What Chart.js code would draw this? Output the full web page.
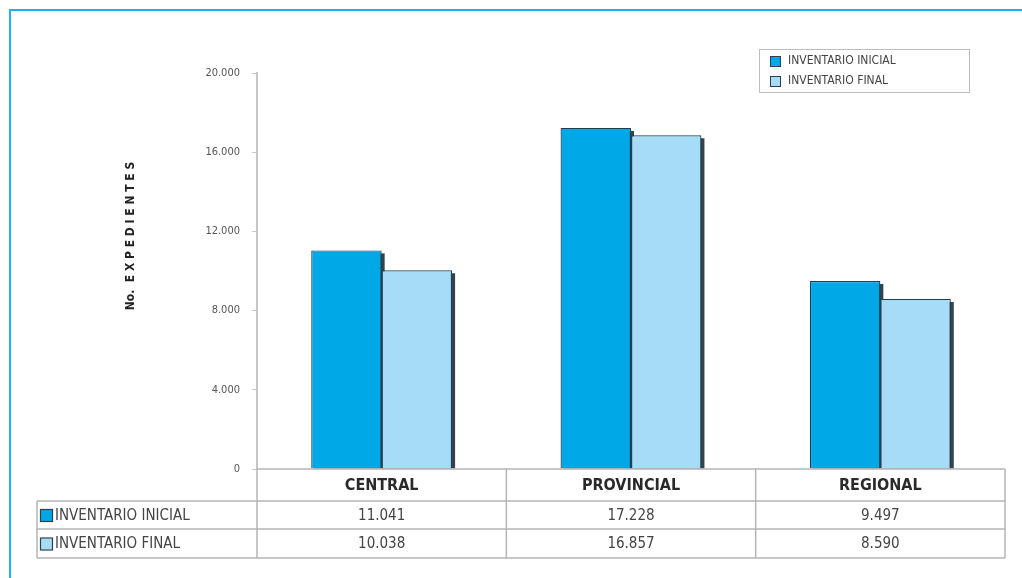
<!DOCTYPE html>
<html>
<head>
<meta charset="utf-8">
<script src="https://cdn.jsdelivr.net/npm/chart.js@4"></script>
<style>
  body { margin: 0; background: #fff; }
  #marco { position: absolute; left: 0; top: 0; width: 1022px; height: 578px; }
</style>
</head>
<body>
<div id="marco"><canvas id="myChart" width="1022" height="578"></canvas></div>
<script>
const regiones = ["CENTRAL", "PROVINCIAL", "REGIONAL"];
const inventarioInicial = [11041, 17228, 9497];
const inventarioFinal = [10038, 16857, 8590];
const ticksY = [0, 4000, 8000, 12000, 16000, 20000];
const series = ["INVENTARIO INICIAL", "INVENTARIO FINAL"];

const fuente = "'Liberation Sans Narrow', 'DejaVu Sans Condensed', Arial, sans-serif";

function puntos(n) {
    return String(n).replace(/\B(?=(\d{3})+(?!\d))/g, ".");
}

// sombra de las barras
const sombra = {
    id: 'sombra',
    beforeDatasetsDraw(chart) {
        const ctx = chart.ctx;
        ctx.save();
        ctx.fillStyle = "#34434c";
        chart.data.datasets.forEach((ds, i) => {
            chart.getDatasetMeta(i).data.forEach(bar => {
                const izq = bar.x - bar.width / 2;
                ctx.fillRect(izq + 3, bar.y + 3, bar.width, bar.base - bar.y - 3);
            });
        });
        ctx.restore();
    }
};

// marco, leyenda, titulo del eje y tabla de datos
const extras = {
    id: 'extras',
    afterDraw(chart) {
        const ctx = chart.ctx;
        const area = chart.chartArea;
        const x = chart.scales.x;
        const ds = chart.data.datasets;
        ctx.save();

        // marco azul
        ctx.strokeStyle = "#1eb2e8";
        ctx.lineWidth = 2;
        ctx.beginPath();
        ctx.moveTo(10, 578);
        ctx.lineTo(10, 10);
        ctx.lineTo(1022, 10);
        ctx.stroke();

        // titulo eje
        ctx.save();
        ctx.translate(131, 236);
        ctx.rotate(-Math.PI / 2);
        ctx.fillStyle = "#222";
        ctx.font = "bold 12px " + fuente;
        ctx.textAlign = "center";
        ctx.textBaseline = "middle";
        ctx.fillText("No.  E X P E D I E N T E S", 0, 0);
        ctx.restore();

        // leyenda
        ctx.strokeStyle = "#bdbdbd";
        ctx.lineWidth = 1;
        ctx.strokeRect(759.5, 49.5, 210, 43);
        ctx.font = "12px " + fuente;
        ctx.textBaseline = "middle";
        ctx.textAlign = "left";
        series.forEach((s, i) => {
            const yy = 61 + i * 20;
            ctx.fillStyle = ds[i].backgroundColor;
            ctx.fillRect(771, yy - 4, 9, 9);
            ctx.strokeStyle = "#2b3f4c";
            ctx.strokeRect(770.5, yy - 4.5, 10, 10);
            ctx.fillStyle = "#444";
            ctx.fillText(s, 788, yy);
        });

        // tabla
        const paso = x.getPixelForValue(1) - x.getPixelForValue(0);
        const izq = area.left;
        const der = area.right;
        const y0 = area.bottom, y1 = 501, y2 = 529, y3 = 558;
        const tablaIzq = 37;
        ctx.strokeStyle = "#b5b5b5";
        ctx.lineWidth = 1.5;
        ctx.beginPath();
        ctx.moveTo(izq, y0); ctx.lineTo(der, y0);
        ctx.moveTo(tablaIzq, y1); ctx.lineTo(der, y1);
        ctx.moveTo(tablaIzq, y2); ctx.lineTo(der, y2);
        ctx.moveTo(tablaIzq, y3); ctx.lineTo(der, y3);
        ctx.moveTo(tablaIzq, y1); ctx.lineTo(tablaIzq, y3);
        ctx.moveTo(der, y0); ctx.lineTo(der, y3);
        regiones.forEach((r, i) => {
            const bx = x.getPixelForValue(i) - paso / 2;
            ctx.moveTo(bx, y0); ctx.lineTo(bx, y3);
        });
        ctx.stroke();

        ctx.textAlign = "center";
        ctx.textBaseline = "middle";
        regiones.forEach((r, i) => {
            const cx = x.getPixelForValue(i);
            ctx.fillStyle = "#2a2a2a";
            ctx.font = "bold 16px " + fuente;
            ctx.fillText(r, cx, (y0 + y1) / 2 + 1);
            ctx.fillStyle = "#444";
            ctx.font = "15px " + fuente;
            ctx.fillText(puntos(inventarioInicial[i]), cx, (y1 + y2) / 2 + 1);
            ctx.fillText(puntos(inventarioFinal[i]), cx, (y2 + y3) / 2 + 1);
        });
        ctx.textAlign = "left";
        series.forEach((s, i) => {
            const yy = i === 0 ? (y1 + y2) / 2 : (y2 + y3) / 2;
            ctx.fillStyle = ds[i].backgroundColor;
            ctx.fillRect(41, yy - 5, 11, 11);
            ctx.strokeStyle = "#2b3f4c";
            ctx.lineWidth = 1.2;
            ctx.strokeRect(40.5, yy - 5.5, 12, 12);
            ctx.fillStyle = "#444";
            ctx.font = "15px " + fuente;
            ctx.fillText(s, 55, yy + 1);
        });
        ctx.restore();
    }
};

const ctx = document.getElementById('myChart').getContext('2d');

new Chart(ctx, {
    type: "bar",
    data: {
        labels: regiones,
        datasets: [
            {
                label: series[0],
                data: inventarioInicial,
                backgroundColor: "#00a8e8",
                borderColor: "#1d3f52",
                borderWidth: 1.2,
                categoryPercentage: 0.565,
                barPercentage: 1.0,
            },
            {
                label: series[1],
                data: inventarioFinal,
                backgroundColor: "#a6dcf6",
                borderColor: "#1d3f52",
                borderWidth: 1.2,
                categoryPercentage: 0.565,
                barPercentage: 1.0,
            },
        ],
    },
    options: {
        responsive: false,
        animation: false,
        layout: {
            padding: { left: 0, right: 17, top: 73, bottom: 109 },
        },
        plugins: {
            legend: { display: false },
            tooltip: { enabled: false },
        },
        scales: {
            x: {
                display: false,
            },
            y: {
                min: 0,
                max: 20000,
                afterFit: (scale) => { scale.width = 257; },
                afterBuildTicks: (scale) => { scale.ticks = ticksY.map(v => ({ value: v })); },
                border: { display: true, color: "#c6c6c6", width: 2 },
                grid: {
                    drawOnChartArea: false,
                    drawTicks: true,
                    tickLength: 5,
                    color: "#c6c6c6",
                },
                ticks: {
                    color: "#555",
                    padding: 12,
                    font: { size: 11, family: fuente },
                    callback: (v) => puntos(v),
                },
            },
        },
    },
    plugins: [sombra, extras],
});
</script>
</body>
</html>
